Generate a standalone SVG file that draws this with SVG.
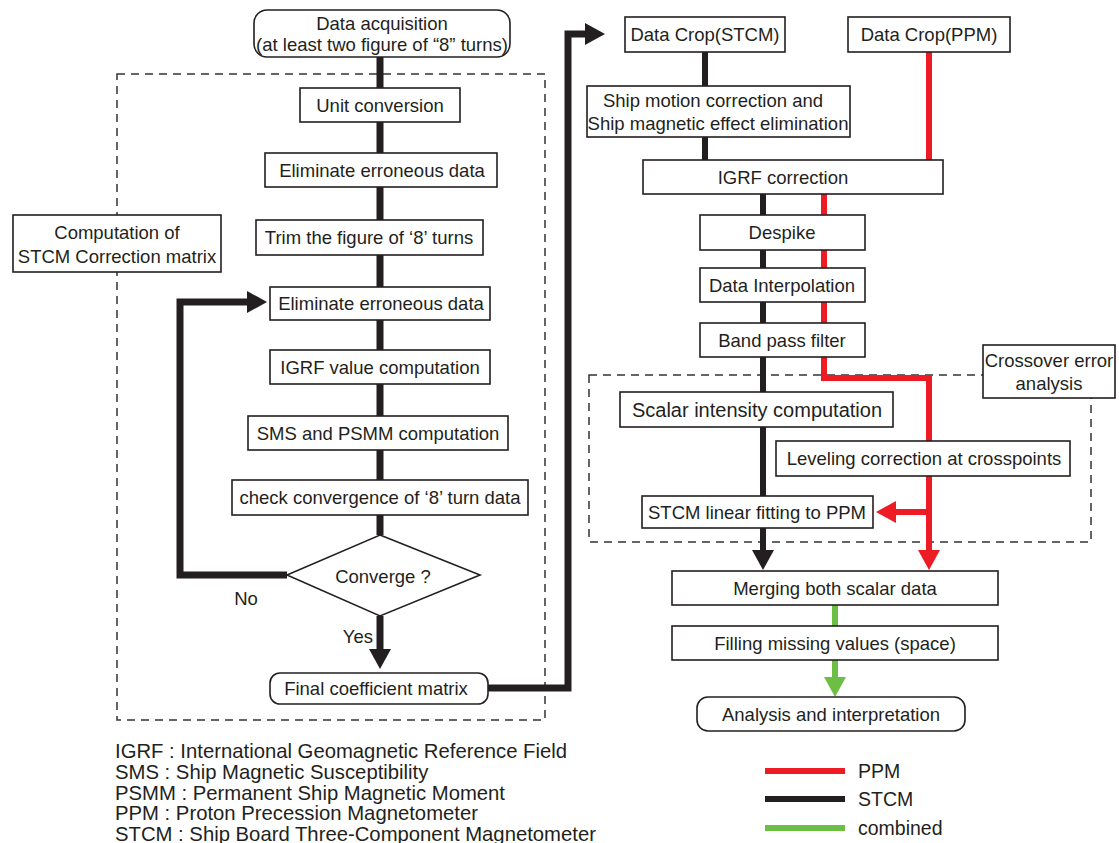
<svg xmlns="http://www.w3.org/2000/svg" width="1119" height="843" viewBox="0 0 1119 843">
<style>
.box{fill:#fff;stroke:#231f20;stroke-width:1.6}
.t{font-family:"Liberation Sans",Arial,sans-serif;font-size:18.5px;fill:#231f20;text-anchor:middle}
.ts{font-family:"Liberation Sans",Arial,sans-serif;font-size:20.3px;fill:#231f20}
.dash{fill:none;stroke:#333;stroke-width:1.5;stroke-dasharray:8 6}
.k{fill:none;stroke:#231f20;stroke-width:7}
.kr{fill:none;stroke:#231f20;stroke-width:6}
.r{fill:none;stroke:#ed1c24;stroke-width:6}
.g{fill:none;stroke:#6dbe45;stroke-width:6}
</style>
<defs>
<marker id="ak" markerUnits="userSpaceOnUse" markerWidth="22" markerHeight="22" refX="3" refY="11" orient="auto"><path d="M0,0 L20,11 L0,22 z" fill="#231f20"/></marker>
<marker id="ar" markerUnits="userSpaceOnUse" markerWidth="22" markerHeight="22" refX="3" refY="11" orient="auto"><path d="M0,0 L20,11 L0,22 z" fill="#ed1c24"/></marker>
<marker id="ag" markerUnits="userSpaceOnUse" markerWidth="22" markerHeight="22" refX="3" refY="11" orient="auto"><path d="M0,0 L20,11 L0,22 z" fill="#6dbe45"/></marker>
</defs>
<rect x="0" y="0" width="1119" height="843" fill="#fff"/>
<rect class="dash" x="117" y="74" width="428" height="646"/>
<rect class="dash" x="589" y="375" width="502" height="167"/>
<g id="connectors">
<path class="k" d="M380,57V88M380,122V153M380,187V220M380,255V287M380,320V350M380,384V416M380,450V480M380,515V535"/>
<path class="k" d="M380,616V652" marker-end="url(#ak)"/>
<path class="k" d="M287,575H180V302H250" marker-end="url(#ak)"/>
<path class="k" d="M488,688H568V34H588" marker-end="url(#ak)"/>
<path class="kr" d="M705,52V86M705,137V160M763,194V215M763,250V268M763,302V323M763,357V392M763,427V496"/>
<path class="kr" d="M763,528V553" marker-end="url(#ak)"/>
<path class="r" d="M929,52V160M824,194V215M824,250V268M824,302V323M824,357V378H929V441"/>
<path class="r" d="M929,476V553" marker-end="url(#ar)"/>
<path class="r" d="M929,512H893" marker-end="url(#ar)"/>
<path class="g" d="M835,605V626"/>
<path class="g" d="M835,660V680" marker-end="url(#ag)"/>
</g>
<g id="n-acq"><rect class="box" x="254" y="10" width="256" height="47" rx="13"/><text class="t" x="382" y="30">Data  acquisition</text><text class="t" x="382" y="51">(at least two figure of “8” turns)</text></g>
<g id="n-unit"><rect class="box" x="300" y="88" width="160" height="34"/><text class="t" x="380" y="112">Unit conversion</text></g>
<g id="n-elim1"><rect class="box" x="265" y="153" width="232" height="34"/><text class="t" x="382" y="177">Eliminate erroneous data</text></g>
<g id="n-trim"><rect class="box" x="256" y="220" width="227" height="35"/><text class="t" x="369" y="244">Trim the figure of ‘8’ turns</text></g>
<g id="n-comp"><rect class="box" x="13" y="215" width="208" height="57"/><text class="t" x="117" y="239">Computation of</text><text class="t" x="117" y="263">STCM Correction matrix</text></g>
<g id="n-elim2"><rect class="box" x="270" y="287" width="220" height="33"/><text class="t" x="381" y="310">Eliminate erroneous data</text></g>
<g id="n-igrfv"><rect class="box" x="270" y="350" width="220" height="34"/><text class="t" x="380" y="374">IGRF value computation</text></g>
<g id="n-sms"><rect class="box" x="248" y="416" width="260" height="34"/><text class="t" x="378" y="440">SMS and PSMM computation</text></g>
<g id="n-check"><rect class="box" x="232" y="480" width="296" height="35"/><text class="t" x="380" y="504">check convergence of ‘8’ turn data</text></g>
<g id="n-conv"><polygon class="box" points="380,535 480,575 380,616 287,575"/><text class="t" x="383" y="583">Converge ?</text></g>
<text class="t" x="246" y="605">No</text>
<text class="t" x="373" y="643" style="text-anchor:end">Yes</text>
<g id="n-final"><rect class="box" x="270" y="673" width="218" height="31" rx="10"/><text class="t" x="376" y="695">Final coefficient matrix</text></g>
<g id="n-cropstcm"><rect class="box" x="625" y="17" width="160" height="35"/><text class="t" x="705" y="41">Data Crop(STCM)</text></g>
<g id="n-cropppm"><rect class="box" x="848" y="17" width="162" height="35"/><text class="t" x="929" y="41">Data Crop(PPM)</text></g>
<g id="n-ship"><rect class="box" x="587" y="86" width="263" height="51"/><text class="t" x="713" y="107">Ship motion correction and</text><text class="t" x="718" y="130">Ship magnetic effect elimination</text></g>
<g id="n-igrfc"><rect class="box" x="643" y="160" width="300" height="34"/><text class="t" x="783" y="184">IGRF correction</text></g>
<g id="n-despike"><rect class="box" x="700" y="215" width="165" height="35"/><text class="t" x="782" y="239">Despike</text></g>
<g id="n-interp"><rect class="box" x="700" y="268" width="165" height="34"/><text class="t" x="782" y="292">Data Interpolation</text></g>
<g id="n-band"><rect class="box" x="700" y="323" width="165" height="34"/><text class="t" x="782" y="347">Band pass filter</text></g>
<g id="n-cross"><rect class="box" x="983" y="345" width="132" height="53"/><text class="t" x="1049" y="367">Crossover error</text><text class="t" x="1049" y="390">analysis</text></g>
<g id="n-scalar"><rect class="box" x="620" y="392" width="273" height="35"/><text class="t" x="757" y="417" style="font-size:20px">Scalar intensity computation</text></g>
<g id="n-level"><rect class="box" x="776" y="441" width="294" height="35"/><text class="t" x="924" y="465">Leveling correction at crosspoints</text></g>
<g id="n-fit"><rect class="box" x="642" y="496" width="231" height="32"/><text class="t" x="757" y="519">STCM linear fitting to PPM</text></g>
<g id="n-merge"><rect class="box" x="672" y="571" width="326" height="34"/><text class="t" x="835" y="595">Merging both scalar data</text></g>
<g id="n-fill"><rect class="box" x="672" y="626" width="326" height="34"/><text class="t" x="835" y="650">Filling missing values (space)</text></g>
<g id="n-analysis"><rect class="box" x="697" y="697" width="268" height="34" rx="11"/><text class="t" x="831" y="721">Analysis and interpretation</text></g>
<g id="abbrev">
<text class="ts" x="115" y="758">IGRF : International Geomagnetic Reference Field</text>
<text class="ts" x="115" y="779">SMS : Ship Magnetic Susceptibility</text>
<text class="ts" x="115" y="800">PSMM : Permanent Ship Magnetic Moment</text>
<text class="ts" x="115" y="820">PPM : Proton Precession Magnetometer</text>
<text class="ts" x="115" y="841">STCM : Ship Board Three-Component Magnetometer</text>
</g>
<g id="legend">
<line x1="765" y1="771" x2="845" y2="771" stroke="#ed1c24" stroke-width="6"/>
<line x1="765" y1="799" x2="845" y2="799" stroke="#231f20" stroke-width="6"/>
<line x1="765" y1="828" x2="845" y2="828" stroke="#6dbe45" stroke-width="6"/>
<text class="ts" x="858" y="778" style="font-size:19.5px">PPM</text>
<text class="ts" x="858" y="806" style="font-size:19.5px">STCM</text>
<text class="ts" x="858" y="835" style="font-size:19.5px">combined</text>
</g>
</svg>
